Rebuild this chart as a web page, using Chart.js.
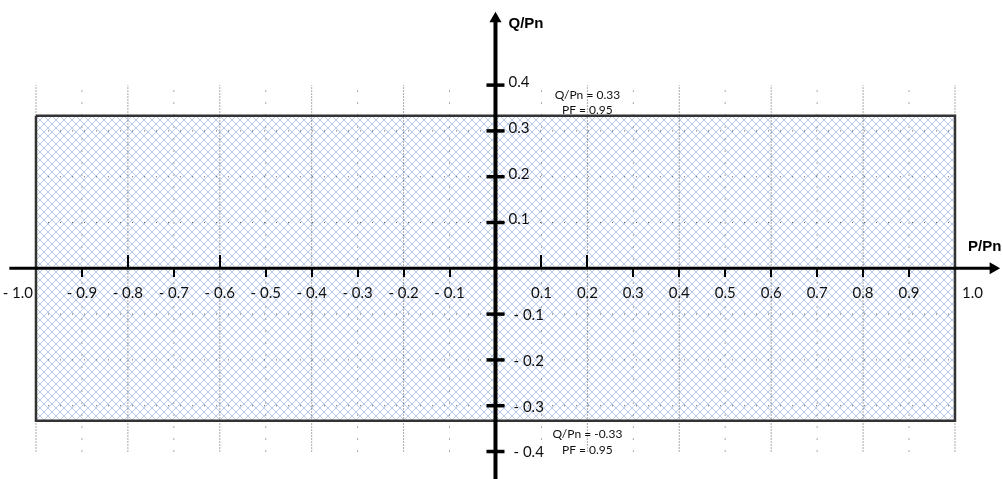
<!DOCTYPE html>
<html>
<head>
<meta charset="utf-8">
<script src="https://cdn.jsdelivr.net/npm/chart.js@4.4.0/dist/chart.umd.min.js"></script>
<style>
  body { margin: 0; background: #fff; }
  #chart { display: block; }
</style>
</head>
<body>
<canvas id="chart" width="1003" height="479"></canvas>
<script>
// P/Pn - Q/Pn capability area
const pMin = -1.0;
const pMax = 1.0;
const qMax = 0.333;   // Q/Pn = 0.33 at PF 0.95
const qMin = -0.333;

const xTicks = [-1.0, -0.9, -0.8, -0.7, -0.6, -0.5, -0.4, -0.3, -0.2, -0.1, 0.1, 0.2, 0.3, 0.4, 0.5, 0.6, 0.7, 0.8, 0.9, 1.0];
const xTickLabels = ['- 1.0', '- 0.9', '- 0.8', '- 0.7', '- 0.6', '- 0.5', '- 0.4', '- 0.3', '- 0.2', '- 0.1', '0.1', '0.2', '0.3', '0.4', '0.5', '0.6', '0.7', '0.8', '0.9', '1.0'];
const yTicks = [0.4, 0.3, 0.2, 0.1, -0.1, -0.2, -0.3, -0.4];
const yTickLabels = ['0.4', '0.3', '0.2', '0.1', '- 0.1', '- 0.2', '- 0.3', '- 0.4'];
const ticksAbove = [-0.8, -0.6, 0.1, 0.2];

const gridDense = [-1.0, -0.8, -0.6, -0.4, -0.2, 0.2, 0.4, 0.6, 0.8, 1.0];
const gridSparse = [-0.9, -0.7, -0.5, -0.3, -0.1, 0.1, 0.3, 0.5, 0.7, 0.9];
const gridRows = [0.3, 0.2, 0.1, -0.1, -0.2, -0.3];

const notes = [
    { x: 0.2, y: qMax, lines: ['Q/Pn = 0.33', 'PF = 0.95'] },
    { x: 0.2, y: qMin, lines: ['Q/Pn = -0.33', 'PF = 0.95'] }
];

// axis extents (arrow tips)
const xAxisFrom = -1.058, xAxisTo = 1.083;
const yAxisFrom = -0.47, yAxisTo = 0.545;

// hatch pattern for the area (pixel cross hatch)
function makeHatch() {
    const tile = document.createElement('canvas');
    tile.width = 8;
    tile.height = 8;
    const t = tile.getContext('2d');
    t.fillStyle = '#ffffff';
    t.fillRect(0, 0, 8, 8);
    t.fillStyle = '#bacbe7';
    for (let i = 0; i < 8; i++) {
        t.fillRect(i, i, 1, 1);
        t.fillRect(7 - i, i, 1, 1);
    }
    return document.getElementById('chart').getContext('2d').createPattern(tile, 'repeat');
}

function makeTick(up, len) {
    const c = document.createElement('canvas');
    c.width = 2;
    c.height = len * 2;
    const t = c.getContext('2d');
    t.fillStyle = '#000';
    if (up) t.fillRect(0, 0, 2, len);
    else t.fillRect(0, len, 2, len);
    return c;
}
const tickUp = makeTick(true, 13);
const tickDown = makeTick(false, 9);

function gridPath() {
    let dense = [], sparse = [];
    gridDense.forEach(v => { dense.push({ x: v, y: -0.4 }, { x: v, y: 0.4 }, { x: v, y: null }); });
    gridSparse.forEach(v => { sparse.push({ x: v, y: -0.4 }, { x: v, y: 0.4 }, { x: v, y: null }); });
    gridRows.forEach(v => { sparse.push({ x: pMin, y: v }, { x: pMax, y: v }, { x: pMax, y: null }); });
    return { dense, sparse };
}
const grid = gridPath();

const labelPlugin = {
    id: 'labels',
    afterDraw(chart) {
        const ctx = chart.ctx;
        const xs = chart.scales.x, ys = chart.scales.y;
        const x0 = xs.getPixelForValue(0), y0 = ys.getPixelForValue(0);
        ctx.save();
        ctx.fillStyle = '#111';
        ctx.font = '15px Lato';
        ctx.textBaseline = 'middle';
        for (let i = 0; i < xTicks.length; i++) {
            let px = xs.getPixelForValue(xTicks[i]);
            if (xTicks[i] === pMin) { ctx.textAlign = 'right'; px -= 3; }
            else if (xTicks[i] === pMax) { ctx.textAlign = 'left'; px += 7; }
            else ctx.textAlign = 'center';
            ctx.fillText(xTickLabels[i], px, y0 + 25);
        }
        ctx.textAlign = 'left';
        for (let i = 0; i < yTicks.length; i++) {
            const py = ys.getPixelForValue(yTicks[i]);
            if (yTicks[i] > 0) ctx.fillText(yTickLabels[i], x0 + 13, py - 3);
            else ctx.fillText(yTickLabels[i], x0 + 18, py + 1);
        }
        ctx.font = '12px Lato';
        ctx.textAlign = 'center';
        notes.forEach(n => {
            const px = xs.getPixelForValue(n.x), py = ys.getPixelForValue(n.y);
            if (n.y > 0) {
                ctx.fillText(n.lines[0], px, py - 21);
                ctx.fillText(n.lines[1], px, py - 6);
            } else {
                ctx.fillText(n.lines[0], px, py + 13);
                ctx.fillText(n.lines[1], px, py + 29);
            }
        });
        ctx.font = 'bold 15px "Liberation Sans"';
        ctx.textAlign = 'left';
        ctx.fillStyle = '#000';
        ctx.fillText('Q/Pn', x0 + 13, ys.getPixelForValue(yAxisTo) + 5);
        ctx.fillText('P/Pn', 968, y0 - 21);
        ctx.restore();
    }
};

const ctx = document.getElementById('chart').getContext('2d');
const myChart = new Chart(ctx, {
    type: 'line',
    data: {
        datasets: [
            {
                // arrow heads
                data: [{ x: xAxisTo, y: 0 }, { x: 0, y: yAxisTo }],
                showLine: false,
                pointStyle: 'triangle',
                rotation: [90, 0],
                pointRadius: 7,
                backgroundColor: '#000',
                borderColor: '#000',
                borderWidth: 0
            },
            {
                // y ticks
                data: yTicks.map(v => ({ x: 0, y: v })),
                showLine: false,
                pointStyle: 'line',
                pointRadius: 9,
                borderColor: '#000',
                borderWidth: 3.5
            },
            {
                // x ticks
                data: xTicks.filter(v => Math.abs(v) < 1).map(v => ({ x: v, y: 0 })),
                showLine: false,
                pointStyle: c => ticksAbove.includes(c.raw ? c.raw.x : 0) ? tickUp : tickDown,
                pointRadius: 5
            },
            {
                data: [{ x: xAxisFrom, y: 0 }, { x: xAxisTo, y: 0 }],
                borderColor: '#000',
                borderWidth: 3,
                pointRadius: 0
            },
            {
                data: [{ x: 0, y: yAxisFrom }, { x: 0, y: yAxisTo }],
                borderColor: '#000',
                borderWidth: 4,
                pointRadius: 0
            },
            {
                // area border
                data: [{ x: pMin, y: qMax }, { x: pMax, y: qMax }, { x: pMax, y: qMin }, { x: pMin, y: qMin }, { x: pMin, y: qMax }],
                borderColor: '#333',
                borderWidth: 2.5,
                pointRadius: 0
            },
            {
                data: grid.dense,
                borderColor: '#555',
                borderWidth: 1,
                borderDash: [1, 2],
                pointRadius: 0,
                spanGaps: false
            },
            {
                data: grid.sparse,
                borderColor: '#555',
                borderWidth: 1,
                borderDash: [1, 11],
                pointRadius: 0,
                spanGaps: false
            },
            {
                // hatched capability area
                data: [{ x: pMin, y: qMax }, { x: pMax, y: qMax }],
                borderWidth: 0,
                pointRadius: 0,
                backgroundColor: makeHatch(),
                fill: { value: qMin }
            }
        ]
    },
    options: {
        responsive: false,
        animation: false,
        devicePixelRatio: 1,
        layout: { padding: 0, autoPadding: false },
        plugins: {
            legend: { display: false },
            tooltip: { enabled: false }
        },
        scales: {
            x: { type: 'linear', min: -1.0783, max: 1.1045, display: false },
            y: { type: 'linear', min: -0.46, max: 0.5858, display: false }
        }
    },
    plugins: [labelPlugin]
});
</script>
</body>
</html>
